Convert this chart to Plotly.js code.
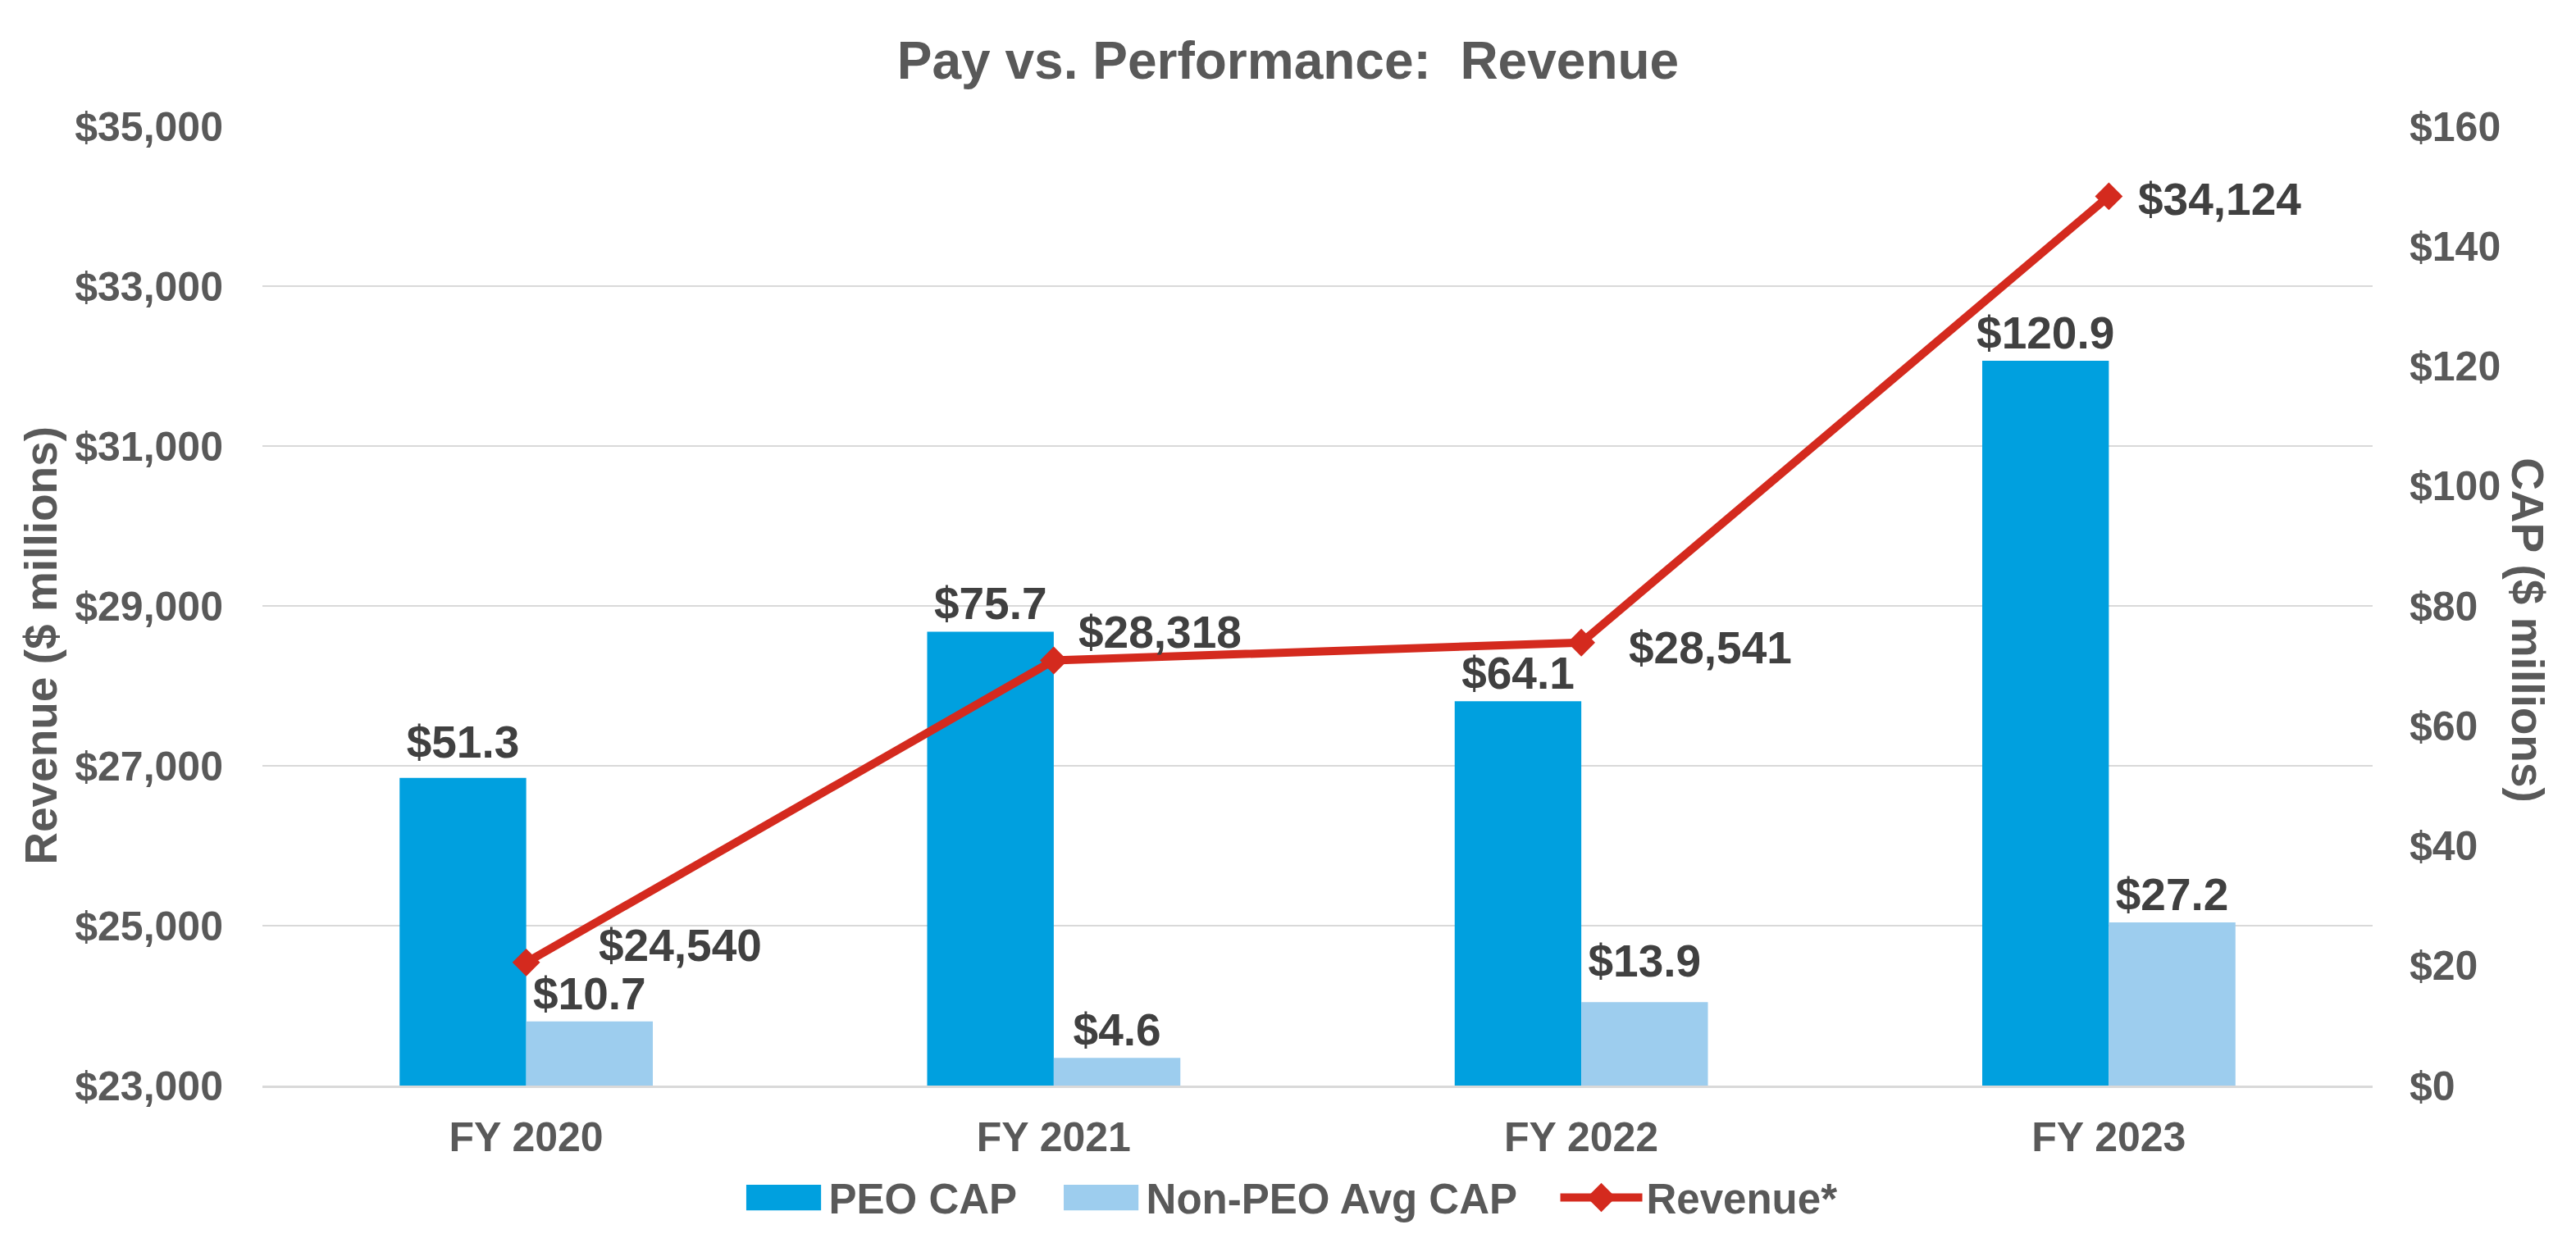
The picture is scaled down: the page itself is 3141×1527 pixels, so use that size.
<!DOCTYPE html>
<html>
<head>
<meta charset="utf-8">
<script src="https://cdn.plot.ly/plotly-3.0.1.min.js"></script>
<style>html,body{margin:0;padding:0;background:#fff;}#chart{width:3141px;height:1527px;}</style>
</head>
<body>
<div id="chart"></div>
<script>
const categories = ["FY 2020", "FY 2021", "FY 2022", "FY 2023"];
const peoCap = [51.3, 75.7, 64.1, 120.9];
const nonPeoCap = [10.7, 4.6, 13.9, 27.2];
const revenue = [24540, 28318, 28541, 34124];
const revenueTicks = [23000, 25000, 27000, 29000, 31000, 33000, 35000];
const capTicks = [0, 20, 40, 60, 80, 100, 120, 140, 160];
const seriesNames = ["PEO CAP", "Non-PEO Avg CAP", "Revenue*"];

const FONT = "Liberation Sans, Arial, sans-serif";
const fmtMoney = v => "$" + v.toLocaleString("en-US");
const fmtCap = v => "$" + v.toFixed(1);
const PAD = "\u00a0\u00a0\u00a0";

// label offsets (px) for the revenue labels, right of marker
const revLabelShift = [[86, 21], [28, 34], [56, -6], [34, -4]];
// extra lift (px) for bar labels, per series / point
const barLabelLift = [[10, 0, 0, 0], [0, 0, 16, 0]];

const labelFont = {family: FONT, size: 55, color: "#404040", weight: "bold"};

const traces = [
  {
    type: "bar", name: seriesNames[0] + PAD, x: categories, y: peoCap, yaxis: "y",
    marker: {color: "#00A0DF"},
    text: peoCap.map(fmtCap), textposition: "outside", textfont: labelFont,
    constraintext: "none", cliponaxis: false, hoverinfo: "none"
  },
  {
    type: "bar", name: seriesNames[1] + PAD, x: categories, y: nonPeoCap, yaxis: "y",
    marker: {color: "#9DCDEE"},
    text: nonPeoCap.map(fmtCap), textposition: "outside", textfont: labelFont,
    constraintext: "none", cliponaxis: false, hoverinfo: "none"
  },
  {
    type: "scatter", mode: "lines+markers", name: seriesNames[2], x: categories, y: revenue, yaxis: "y2",
    line: {color: "#D42A1E", width: 10},
    marker: {symbol: "diamond", size: 26, color: "#D42A1E"},
    cliponaxis: false, hoverinfo: "none"
  }
];

const annotations = revenue.map((v, i) => ({
  xref: "x", yref: "y2", x: categories[i], y: v,
  text: fmtMoney(v), showarrow: false, xanchor: "left", yanchor: "middle",
  xshift: revLabelShift[i][0], yshift: revLabelShift[i][1],
  font: labelFont
}));
annotations.push({
  xref: "paper", yref: "paper", x: -0.105, y: 0.459, xanchor: "center", yanchor: "middle",
  text: "Revenue ($ millions)", textangle: -90, showarrow: false,
  font: {family: FONT, size: 55, color: "#595959", weight: "bold"}
});
annotations.push({
  xref: "paper", yref: "paper", x: 1.0735, y: 0.475, xanchor: "center", yanchor: "middle",
  text: "CAP ($ millions)", textangle: 90, showarrow: false,
  font: {family: FONT, size: 55, color: "#595959", weight: "bold"}
});

const tickFont = {family: FONT, size: 50, color: "#595959", weight: "bold"};

const layout = {
  width: 3141, height: 1527,
  paper_bgcolor: "#fff", plot_bgcolor: "#fff",
  margin: {l: 320, r: 248, t: 154, b: 203, pad: 0},
  title: {
    text: "Pay vs. Performance:\u00a0\u00a0Revenue",
    font: {family: FONT, size: 64, color: "#595959", weight: "bold"},
    x: 0.5, xanchor: "center", y: 1 - 74 / 1527, yanchor: "middle"
  },
  barmode: "group", bargap: 0.52, bargroupgap: 0,
  showlegend: true,
  legend: {
    orientation: "h", x: 0.487, xanchor: "center", y: -0.117, yanchor: "middle",
    font: {family: FONT, size: 51, color: "#595959", weight: "bold"},
    traceorder: "normal", itemwidth: 100
  },
  xaxis: {
    type: "category", tickfont: {family: FONT, size: 50, color: "#595959", weight: "bold"},
    showline: true, linecolor: "#D9D9D9", linewidth: 3, showgrid: false,
    ticks: "", ticklabelstandoff: 17, fixedrange: true
  },
  yaxis: {
    side: "right", range: [0, 160], tickvals: capTicks, ticktext: capTicks.map(v => "$" + v),
    tickfont: tickFont, showgrid: false, zeroline: false, ticks: "",
    ticklabelstandoff: 44, fixedrange: true
  },
  yaxis2: {
    side: "left", overlaying: "y", range: [23000, 35000],
    tickvals: revenueTicks, ticktext: revenueTicks.map(fmtMoney),
    tickfont: tickFont, showgrid: true, gridcolor: "#D9D9D9", gridwidth: 2,
    zeroline: false, ticks: "", ticklabelstandoff: 47, fixedrange: true
  },
  annotations: annotations
};

const gd = document.getElementById("chart");
Plotly.newPlot(gd, traces, layout, {staticPlot: true, displayModeBar: false}).then(() => {
  // enlarge legend swatches to match the reference style
  const items = gd.querySelectorAll(".legend .traces");
  items.forEach((g, i) => {
    if (i < 2) {
      g.querySelectorAll(".legendpoints path").forEach(p => {
        const t = p.getAttribute("transform") || "";
        p.setAttribute("transform", t + " scale(7.6,2.6)");
      });
    } else {
      g.querySelectorAll(".legendlines path").forEach(p => { p.style.strokeWidth = "10px"; });
      g.querySelectorAll(".legendpoints path").forEach(p => {
        const t = p.getAttribute("transform") || "";
        p.setAttribute("transform", t + " scale(1.7)");
      });
    }
  });
  // small per-label lifts for bar labels
  gd.querySelectorAll(".barlayer .trace").forEach((tr, si) => {
    tr.querySelectorAll("text.bartext").forEach((tx, pi) => {
      const lift = (barLabelLift[si] || [])[pi] || 0;
      if (lift) {
        const t = tx.getAttribute("transform") || "";
        tx.setAttribute("transform", "translate(0," + (-lift) + ") " + t);
      }
    });
  });
});
</script>
</body>
</html>
